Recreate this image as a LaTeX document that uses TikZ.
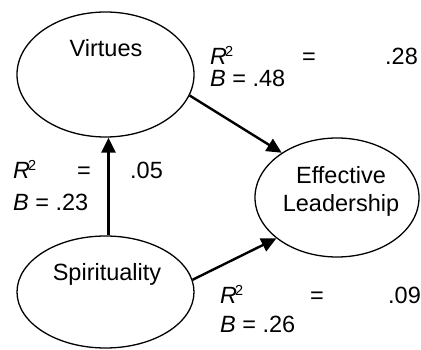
\documentclass[tikz,border=0pt]{standalone}
\usepackage{fontspec}
\setmainfont{Liberation Sans}
\usetikzlibrary{arrows.meta,shapes.geometric}
\newcommand{\rsq}{\textit{R}\kern-2pt\raisebox{8pt}{\fontsize{14.5}{14}\selectfont 2}}

\begin{document}
\begin{tikzpicture}[x=1pt,y=1pt,font=\fontsize{23.5}{28}\selectfont,
  blob/.style={draw,ellipse,line width=1.3pt,inner sep=0pt},
  path/.style={line width=2.4pt,-{Triangle[length=15pt,width=14pt]}},
  lbl/.style={inner sep=0pt,anchor=base west}]
\useasboundingbox (0,0) rectangle (421,349);
%constructs
\node[blob,minimum width=177pt,minimum height=125pt] (virt) at (105.5,274.5) {};
\node[inner sep=0pt] (virttxt) at (106,300.5) {Virtues};
\node[blob,minimum width=164pt,minimum height=119pt] (lead) at (337,151.5) {};
\node[inner sep=0pt,align=center] (leadtxt) at (341,158) {Effective\\Leadership};
\node[blob,minimum width=177pt,minimum height=112pt] (spir) at (105.5,57) {};
\node[inner sep=0pt] (spirtxt) at (107,75) {Spirituality};
%paths
\draw[path] ([xshift=3pt]spir.north) -- ([xshift=3pt]virt.south);
\draw[path] (virt.-14) -- (lead.141);
\draw[path] (spir.8) -- (lead.214);
%estimates
\node[lbl] (r1) at (210,284) {\rsq};
\node[lbl] (e1) at (302,284) {=};
\node[lbl] (v1) at (385,284) {.28};
\node[lbl] (b1) at (210,262) {\textit{B} = .48};
\node[lbl] (r2) at (13,171) {\rsq};
\node[lbl] (e2) at (77,171) {=};
\node[lbl] (v2) at (130,171) {.05};
\node[lbl] (b2) at (13,139) {\textit{B} = .23};
\node[lbl] (r3) at (220,46) {\rsq};
\node[lbl] (e3) at (310,46) {=};
\node[lbl] (v3) at (388,46) {.09};
\node[lbl] (b3) at (220,17) {\textit{B} = .26};
\end{tikzpicture}
\end{document}
